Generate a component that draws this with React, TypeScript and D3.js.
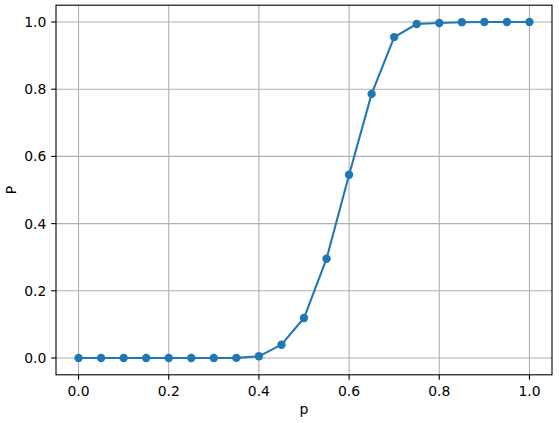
import React from "react";
import * as d3 from "d3";

const pValues = [0, 0.05, 0.1, 0.15, 0.2, 0.25, 0.3, 0.35, 0.4, 0.45, 0.5, 0.55, 0.6, 0.65, 0.7, 0.75, 0.8, 0.85, 0.9, 0.95, 1.0];
const PValues = [0, 0, 0, 0, 0, 0, 0, 0.0003, 0.005, 0.0396, 0.119, 0.2955, 0.5455, 0.786, 0.955, 0.994, 0.997, 0.9995, 1.0, 1.0, 1.0];
const xTicks = [0, 0.2, 0.4, 0.6, 0.8, 1.0];
const yTicks = [0, 0.2, 0.4, 0.6, 0.8, 1.0];

const W = 559, H = 423;
const left = 56, right = 552, top = 5.2, bottom = 374.8;
const FONT = "DejaVu Sans, sans-serif";
const FS = 13.9;
const COLOR = "#1f77b4";

export default function App() {
  const x = d3.scaleLinear().domain([-0.05, 1.05]).range([left, right]);
  const y = d3.scaleLinear().domain([-0.05, 1.05]).range([bottom, top]);
  const pts = pValues.map((p, i) => [p, PValues[i]] as [number, number]);
  const line = d3.line<[number, number]>().x(d => x(d[0])).y(d => y(d[1]))(pts) || "";
  return (
    <svg width={W} height={H} style={{ position: "absolute", left: 0, top: 0, background: "#fff" }} fontFamily={FONT}>
      <rect x={0} y={0} width={W} height={H} fill="#fff" />
      {xTicks.map(t => (
        <line key={"gx" + t} x1={x(t)} x2={x(t)} y1={top} y2={bottom} stroke="#b0b0b0" strokeWidth={1.1} />
      ))}
      {yTicks.map(t => (
        <line key={"gy" + t} x1={left} x2={right} y1={y(t)} y2={y(t)} stroke="#b0b0b0" strokeWidth={1.1} />
      ))}
      <path d={line} fill="none" stroke={COLOR} strokeWidth={2.08} strokeLinejoin="round" strokeLinecap="square" />
      {pts.map((d, i) => (
        <circle key={i} cx={x(d[0])} cy={y(d[1])} r={4.2} fill={COLOR} />
      ))}
      <rect x={left} y={top} width={right - left} height={bottom - top} fill="none" stroke="#000" strokeWidth={1.1} />
      {xTicks.map(t => (
        <g key={"tx" + t}>
          <line x1={x(t)} x2={x(t)} y1={bottom} y2={bottom + 4.86} stroke="#000" strokeWidth={1.1} />
          <text x={x(t)} y={bottom + 21} fontSize={FS} textAnchor="middle" fill="#000">{t.toFixed(1)}</text>
        </g>
      ))}
      {yTicks.map(t => (
        <g key={"ty" + t}>
          <line x1={left} x2={left - 4.86} y1={y(t)} y2={y(t)} stroke="#000" strokeWidth={1.1} />
          <text x={left - 9.7} y={y(t)} dy="0.36em" fontSize={FS} textAnchor="end" fill="#000">{t.toFixed(1)}</text>
        </g>
      ))}
      <text x={(left + right) / 2} y={414} fontSize={FS} textAnchor="middle" fill="#000">p</text>
      <text transform={`translate(16,${(top + bottom) / 2}) rotate(-90)`} fontSize={FS} textAnchor="middle" fill="#000">P</text>
    </svg>
  );
}
